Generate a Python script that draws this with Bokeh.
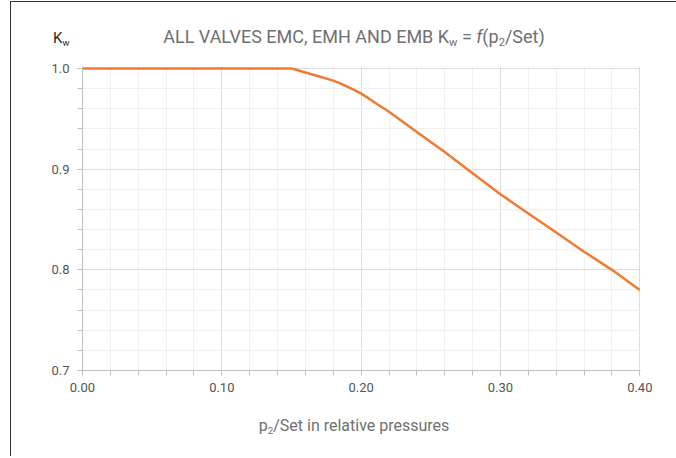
from bokeh.plotting import figure
from bokeh.models import Range1d, NumeralTickFormatter, FixedTicker, Div
from bokeh.layouts import column
from bokeh.embed import file_html
from bokeh.resources import INLINE

# data
p_ratio = [0.00, 0.15, 0.16, 0.17, 0.18, 0.185, 0.19, 0.195, 0.20, 0.205, 0.21,
           0.22, 0.24, 0.26, 0.28, 0.30, 0.32, 0.34, 0.36, 0.38, 0.40]
kw = [1.000, 1.000, 0.996, 0.992, 0.988, 0.9852, 0.982, 0.9787, 0.975, 0.9708,
      0.966, 0.957, 0.937, 0.917, 0.896, 0.875, 0.856, 0.837, 0.818, 0.800, 0.780]
x_ticks = [0.0, 0.1, 0.2, 0.3, 0.4]
y_ticks = [0.7, 0.8, 0.9, 1.0]
x_minor = [round(i * 0.02, 2) for i in range(21)]
y_minor = [round(0.7 + i * 0.02, 2) for i in range(16)]
title_html = "ALL VALVES EMC, EMH AND EMB K<sub>w</sub> = <i>f</i>(p<sub>2</sub>/Set)"
ylabel_html = "K<sub>w</sub>"
xlabel_html = "p<sub>2</sub>/Set in relative pressures"

FONT = "Roboto"
GRAY = "#707070"
SUB = "font-size:0.62em;vertical-align:-0.3em;"
W = 660

p = figure(width=W, height=350, output_backend="svg", toolbar_location=None,
           x_range=Range1d(0, 0.4005), y_range=Range1d(0.7, 1.002),
           min_border_left=71, min_border_right=W - 629, min_border_top=14,
           min_border_bottom=32)
p.outline_line_color = None
p.background_fill_color = "white"
p.border_fill_color = "white"

p.line(p_ratio, kw, line_color="#f07a33", line_width=2.5, line_join="round")

for ax in (p.xaxis[0], p.yaxis[0]):
    ax.axis_line_color = "#c0c0c0"
    ax.major_tick_line_color = "#c0c0c0"
    ax.minor_tick_line_color = "#c0c0c0"
    ax.major_tick_in = 0
    ax.minor_tick_in = 0
    ax.major_tick_out = 5
    ax.minor_tick_out = 5
    ax.major_label_text_font = FONT
    ax.major_label_text_font_size = "13px"
    ax.major_label_text_color = "#555555"
    ax.major_label_text_font_style = "normal"

p.xaxis.ticker = FixedTicker(ticks=x_ticks, minor_ticks=x_minor)
p.yaxis.ticker = FixedTicker(ticks=y_ticks, minor_ticks=y_minor)
p.xaxis.formatter = NumeralTickFormatter(format="0.00")
p.yaxis.formatter = NumeralTickFormatter(format="0.0")
p.xaxis.major_label_standoff = 7
p.yaxis.major_label_standoff = 8

p.xgrid.grid_line_color = "#dddddd"
p.ygrid.grid_line_color = "#dddddd"
p.xgrid.minor_grid_line_color = "#f0f0f0"
p.ygrid.minor_grid_line_color = "#f0f0f0"

sub_styled = lambda s: s.replace("<sub>", f'<sub style="{SUB}">')

top = Div(width=W, height=40, text=(
    f'<div style="position:relative;width:{W}px;height:40px;">'
    f'<span style="position:absolute;left:37px;top:24px;font-family:{FONT};'
    f'font-size:15px;line-height:15px;color:#2a2a2a;white-space:nowrap;">'
    f'{sub_styled(ylabel_html)}</span>'
    f'<span style="position:absolute;left:16px;width:644px;top:21px;text-align:center;'
    f'font-family:{FONT};font-size:18px;line-height:18px;color:{GRAY};white-space:nowrap;">'
    f'{sub_styled(title_html)}</span></div>'))

bottom = Div(width=W, height=44, text=(
    f'<div style="position:relative;width:{W}px;height:44px;">'
    f'<span style="position:absolute;left:16px;width:644px;top:11px;text-align:center;'
    f'font-family:{FONT};font-size:16px;line-height:16px;color:{GRAY};white-space:nowrap;">'
    f'{sub_styled(xlabel_html)}</span></div>'))

layout = column(top, p, bottom, spacing=0)
layout.styles = {"margin-left": "10px", "margin-top": "1px",
                 "border-left": "1px solid #333", "border-top": "1px solid #333"}

open("out.html", "w").write(file_html(layout, INLINE))
